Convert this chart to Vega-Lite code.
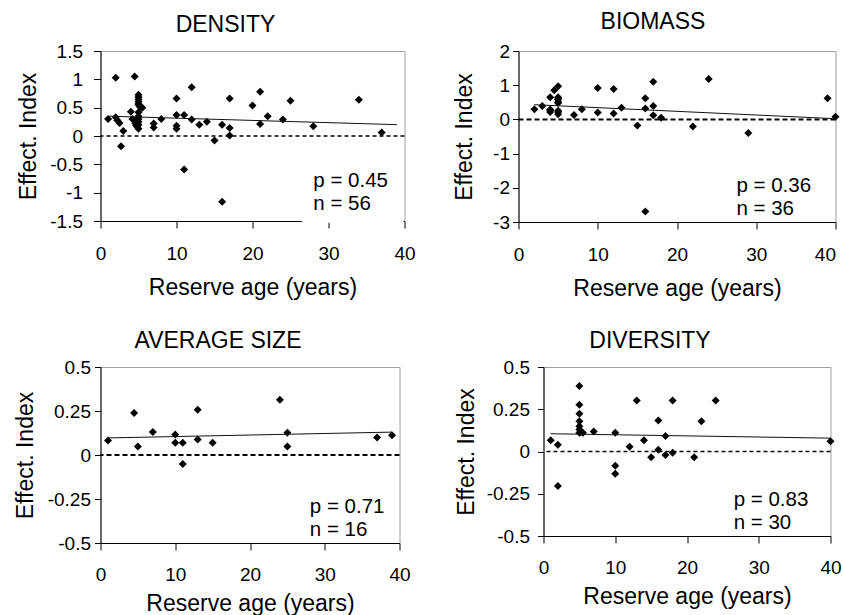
{
  "$schema": "https://vega.github.io/schema/vega-lite/v6.json",
  "background": "white",
  "padding": {"left": 13.5, "top": 10, "right": 5, "bottom": 0},
  "config": {
    "font": "Liberation Sans",
    "view": {"stroke": "#a0a0a0", "strokeWidth": 1},
    "axis": {"grid": false, "domainColor": "black", "tickColor": "black", "labelColor": "black", "titleColor": "black", "labelFont": "Liberation Sans", "titleFont": "Liberation Sans", "labelFontSize": 19, "titleFontSize": 23, "titleFontWeight": "normal", "tickSize": 7, "domainWidth": 1, "tickWidth": 1, "labelOverlap": false, "labelFlush": false, "tickCount": 12, "labelExpr": "toString(datum.value)"},
    "title": {"fontSize": 23, "fontWeight": "normal", "font": "Liberation Sans", "color": "black", "frame": "group", "baseline": "alphabetic", "offset": 5.5}
  },
  "datasets": {
    "points": [
      {"panel": "DENSITY", "age": 1, "effect": 0.30},
      {"panel": "DENSITY", "age": 2, "effect": 1.03},
      {"panel": "DENSITY", "age": 2, "effect": 0.33},
      {"panel": "DENSITY", "age": 2.2, "effect": 0.28},
      {"panel": "DENSITY", "age": 2.5, "effect": 0.23},
      {"panel": "DENSITY", "age": 2.7, "effect": -0.18},
      {"panel": "DENSITY", "age": 3, "effect": 0.09},
      {"panel": "DENSITY", "age": 4, "effect": 0.43},
      {"panel": "DENSITY", "age": 4.5, "effect": 1.05},
      {"panel": "DENSITY", "age": 4.2, "effect": 0.30},
      {"panel": "DENSITY", "age": 4.5, "effect": 0.27},
      {"panel": "DENSITY", "age": 4.6, "effect": 0.22},
      {"panel": "DENSITY", "age": 4.7, "effect": 0.18},
      {"panel": "DENSITY", "age": 5, "effect": 0.73},
      {"panel": "DENSITY", "age": 5, "effect": 0.69},
      {"panel": "DENSITY", "age": 5, "effect": 0.65},
      {"panel": "DENSITY", "age": 5, "effect": 0.61},
      {"panel": "DENSITY", "age": 5, "effect": 0.57},
      {"panel": "DENSITY", "age": 5, "effect": 0.42},
      {"panel": "DENSITY", "age": 5, "effect": 0.30},
      {"panel": "DENSITY", "age": 5, "effect": 0.25},
      {"panel": "DENSITY", "age": 5, "effect": 0.20},
      {"panel": "DENSITY", "age": 5, "effect": 0.13},
      {"panel": "DENSITY", "age": 5, "effect": 0.35},
      {"panel": "DENSITY", "age": 5.2, "effect": 0.51},
      {"panel": "DENSITY", "age": 5.5, "effect": 0.50},
      {"panel": "DENSITY", "age": 4.8, "effect": 0.28},
      {"panel": "DENSITY", "age": 5, "effect": 0.55},
      {"panel": "DENSITY", "age": 7, "effect": 0.22},
      {"panel": "DENSITY", "age": 7, "effect": 0.15},
      {"panel": "DENSITY", "age": 8, "effect": 0.30},
      {"panel": "DENSITY", "age": 10, "effect": 0.66},
      {"panel": "DENSITY", "age": 10, "effect": 0.37},
      {"panel": "DENSITY", "age": 10, "effect": 0.18},
      {"panel": "DENSITY", "age": 10, "effect": 0.13},
      {"panel": "DENSITY", "age": 11, "effect": 0.37},
      {"panel": "DENSITY", "age": 11, "effect": -0.59},
      {"panel": "DENSITY", "age": 12, "effect": 0.86},
      {"panel": "DENSITY", "age": 12, "effect": 0.29},
      {"panel": "DENSITY", "age": 13, "effect": 0.20},
      {"panel": "DENSITY", "age": 14, "effect": 0.25},
      {"panel": "DENSITY", "age": 15, "effect": -0.08},
      {"panel": "DENSITY", "age": 16, "effect": 0.20},
      {"panel": "DENSITY", "age": 16, "effect": -1.16},
      {"panel": "DENSITY", "age": 17, "effect": 0.66},
      {"panel": "DENSITY", "age": 17, "effect": 0.14},
      {"panel": "DENSITY", "age": 17, "effect": 0.01},
      {"panel": "DENSITY", "age": 20, "effect": 0.54},
      {"panel": "DENSITY", "age": 21, "effect": 0.78},
      {"panel": "DENSITY", "age": 21, "effect": 0.21},
      {"panel": "DENSITY", "age": 22, "effect": 0.35},
      {"panel": "DENSITY", "age": 24, "effect": 0.29},
      {"panel": "DENSITY", "age": 25, "effect": 0.62},
      {"panel": "DENSITY", "age": 28, "effect": 0.17},
      {"panel": "DENSITY", "age": 34, "effect": 0.64},
      {"panel": "DENSITY", "age": 37, "effect": 0.06},

      {"panel": "BIOMASS", "age": 2, "effect": 0.30},
      {"panel": "BIOMASS", "age": 3, "effect": 0.39},
      {"panel": "BIOMASS", "age": 4, "effect": 0.65},
      {"panel": "BIOMASS", "age": 4, "effect": 0.29},
      {"panel": "BIOMASS", "age": 4, "effect": 0.22},
      {"panel": "BIOMASS", "age": 4, "effect": 0.26},
      {"panel": "BIOMASS", "age": 4.5, "effect": 0.85},
      {"panel": "BIOMASS", "age": 5, "effect": 0.97},
      {"panel": "BIOMASS", "age": 5, "effect": 0.65},
      {"panel": "BIOMASS", "age": 5, "effect": 0.62},
      {"panel": "BIOMASS", "age": 5, "effect": 0.58},
      {"panel": "BIOMASS", "age": 5, "effect": 0.51},
      {"panel": "BIOMASS", "age": 5, "effect": 0.48},
      {"panel": "BIOMASS", "age": 5, "effect": 0.25},
      {"panel": "BIOMASS", "age": 5, "effect": 0.22},
      {"panel": "BIOMASS", "age": 5, "effect": 0.15},
      {"panel": "BIOMASS", "age": 7, "effect": 0.13},
      {"panel": "BIOMASS", "age": 8, "effect": 0.30},
      {"panel": "BIOMASS", "age": 10, "effect": 0.92},
      {"panel": "BIOMASS", "age": 10, "effect": 0.20},
      {"panel": "BIOMASS", "age": 12, "effect": 0.89},
      {"panel": "BIOMASS", "age": 12, "effect": 0.17},
      {"panel": "BIOMASS", "age": 13, "effect": 0.34},
      {"panel": "BIOMASS", "age": 15, "effect": -0.18},
      {"panel": "BIOMASS", "age": 16, "effect": 0.62},
      {"panel": "BIOMASS", "age": 16, "effect": 0.32},
      {"panel": "BIOMASS", "age": 16, "effect": -2.69},
      {"panel": "BIOMASS", "age": 17, "effect": 1.10},
      {"panel": "BIOMASS", "age": 17, "effect": 0.39},
      {"panel": "BIOMASS", "age": 17, "effect": 0.12},
      {"panel": "BIOMASS", "age": 18, "effect": 0.05},
      {"panel": "BIOMASS", "age": 22, "effect": -0.21},
      {"panel": "BIOMASS", "age": 24, "effect": 1.18},
      {"panel": "BIOMASS", "age": 29, "effect": -0.40},
      {"panel": "BIOMASS", "age": 39, "effect": 0.62},
      {"panel": "BIOMASS", "age": 40, "effect": 0.08},

      {"panel": "AVERAGE SIZE", "age": 1, "effect": 0.082},
      {"panel": "AVERAGE SIZE", "age": 4.5, "effect": 0.238},
      {"panel": "AVERAGE SIZE", "age": 5, "effect": 0.048},
      {"panel": "AVERAGE SIZE", "age": 7, "effect": 0.131},
      {"panel": "AVERAGE SIZE", "age": 10, "effect": 0.116},
      {"panel": "AVERAGE SIZE", "age": 10, "effect": 0.069},
      {"panel": "AVERAGE SIZE", "age": 11, "effect": 0.069},
      {"panel": "AVERAGE SIZE", "age": 11, "effect": -0.051},
      {"panel": "AVERAGE SIZE", "age": 13, "effect": 0.257},
      {"panel": "AVERAGE SIZE", "age": 13, "effect": 0.088},
      {"panel": "AVERAGE SIZE", "age": 15, "effect": 0.069},
      {"panel": "AVERAGE SIZE", "age": 24, "effect": 0.314},
      {"panel": "AVERAGE SIZE", "age": 25, "effect": 0.126},
      {"panel": "AVERAGE SIZE", "age": 25, "effect": 0.048},
      {"panel": "AVERAGE SIZE", "age": 37, "effect": 0.099},
      {"panel": "AVERAGE SIZE", "age": 39, "effect": 0.112},

      {"panel": "DIVERSITY", "age": 1, "effect": 0.067},
      {"panel": "DIVERSITY", "age": 2, "effect": 0.040},
      {"panel": "DIVERSITY", "age": 2, "effect": -0.204},
      {"panel": "DIVERSITY", "age": 5, "effect": 0.387},
      {"panel": "DIVERSITY", "age": 5, "effect": 0.276},
      {"panel": "DIVERSITY", "age": 5, "effect": 0.224},
      {"panel": "DIVERSITY", "age": 5, "effect": 0.179},
      {"panel": "DIVERSITY", "age": 5, "effect": 0.149},
      {"panel": "DIVERSITY", "age": 5, "effect": 0.130},
      {"panel": "DIVERSITY", "age": 5, "effect": 0.111},
      {"panel": "DIVERSITY", "age": 5.2, "effect": 0.115},
      {"panel": "DIVERSITY", "age": 5.5, "effect": 0.111},
      {"panel": "DIVERSITY", "age": 7, "effect": 0.119},
      {"panel": "DIVERSITY", "age": 10, "effect": 0.111},
      {"panel": "DIVERSITY", "age": 10, "effect": -0.085},
      {"panel": "DIVERSITY", "age": 10, "effect": -0.131},
      {"panel": "DIVERSITY", "age": 12, "effect": 0.028},
      {"panel": "DIVERSITY", "age": 13, "effect": 0.302},
      {"panel": "DIVERSITY", "age": 14, "effect": 0.067},
      {"panel": "DIVERSITY", "age": 15, "effect": -0.034},
      {"panel": "DIVERSITY", "age": 16, "effect": 0.183},
      {"panel": "DIVERSITY", "age": 16, "effect": 0.010},
      {"panel": "DIVERSITY", "age": 17, "effect": 0.091},
      {"panel": "DIVERSITY", "age": 17, "effect": -0.020},
      {"panel": "DIVERSITY", "age": 18, "effect": 0.302},
      {"panel": "DIVERSITY", "age": 18, "effect": -0.008},
      {"panel": "DIVERSITY", "age": 21, "effect": -0.034},
      {"panel": "DIVERSITY", "age": 22, "effect": 0.179},
      {"panel": "DIVERSITY", "age": 24, "effect": 0.302},
      {"panel": "DIVERSITY", "age": 40, "effect": 0.060}
    ],
    "fits": [
      {"panel": "DENSITY", "age": 1, "effect": 0.35},
      {"panel": "DENSITY", "age": 39, "effect": 0.20},
      {"panel": "BIOMASS", "age": 2, "effect": 0.43},
      {"panel": "BIOMASS", "age": 40, "effect": 0.02},
      {"panel": "AVERAGE SIZE", "age": 1, "effect": 0.097},
      {"panel": "AVERAGE SIZE", "age": 39, "effect": 0.13},
      {"panel": "DIVERSITY", "age": 1, "effect": 0.105},
      {"panel": "DIVERSITY", "age": 40, "effect": 0.079}
    ]
  },
  "spacing": 28,
  "vconcat": [
    {
      "spacing": 36,
      "hconcat": [
        {
          "title": {"text": "DENSITY", "dx": -27},
          "width": 304,
          "height": 170,
          "layer": [
            {
              "data": {"name": "points"},
              "transform": [{"filter": "datum.panel == 'DENSITY'"}],
              "mark": {"type": "point", "shape": "diamond", "filled": true, "color": "black", "opacity": 1, "size": 64},
              "encoding": {
                "x": {"field": "age", "type": "quantitative", "scale": {"domain": [0, 40], "nice": false}, "axis": {"title": "Reserve age (years)", "values": [0, 10, 20, 30, 40], "tickCount": 12, "labelPadding": 16, "titlePadding": 13}},
                "y": {"field": "effect", "type": "quantitative", "scale": {"domain": [-1.5, 1.5], "nice": false}, "axis": {"title": "Effect. Index", "values": [-1.5, -1, -0.5, 0, 0.5, 1, 1.5], "tickCount": 12, "labelPadding": 11, "titlePadding": 9}}
              }
            },
            {
              "data": {"values": [{}]},
              "mark": {"type": "rule", "color": "black", "strokeWidth": 1.3, "strokeDash": [4, 3]},
              "encoding": {"y": {"datum": 0}}
            },
            {
              "data": {"name": "fits"},
              "transform": [{"filter": "datum.panel == 'DENSITY'"}],
              "mark": {"type": "line", "color": "#111", "strokeWidth": 1},
              "encoding": {"x": {"field": "age", "type": "quantitative"}, "y": {"field": "effect", "type": "quantitative"}}
            },
            {
              "data": {"values": [{}]},
              "mark": {"type": "rect", "color": "white"},
              "encoding": {"x": {"datum": 26.5}, "x2": {"datum": 39.9}, "y": {"datum": -1.53}, "y2": {"datum": -0.7}}
            },
            {
              "data": {"values": [{}]},
              "mark": {"type": "text", "text": ["p = 0.45", "n = 56"], "align": "left", "baseline": "middle", "fontSize": 20.5, "lineHeight": 23, "color": "black"},
              "encoding": {"x": {"datum": 28}, "y": {"datum": -0.8}}
            }
          ]
        },
        {
          "title": {"text": "BIOMASS", "dx": -24, "dy": -3},
          "width": 317,
          "height": 171,
          "layer": [
            {
              "data": {"name": "points"},
              "transform": [{"filter": "datum.panel == 'BIOMASS'"}],
              "mark": {"type": "point", "shape": "diamond", "filled": true, "color": "black", "opacity": 1, "size": 64},
              "encoding": {
                "x": {"field": "age", "type": "quantitative", "scale": {"domain": [0, 40], "nice": false}, "axis": {"title": "Reserve age (years)", "values": [0, 10, 20, 30, 40], "tickCount": 12, "labelPadding": 16, "titlePadding": 13, "labelAlign": {"expr": "datum.value == 40 ? 'right' : 'center'"}}},
                "y": {"field": "effect", "type": "quantitative", "scale": {"domain": [-3, 2], "nice": false}, "axis": {"title": "Effect. Index", "values": [-3, -2, -1, 0, 1, 2], "tickCount": 12, "tickSize": 6, "labelPadding": 3, "titlePadding": 16}}
              }
            },
            {
              "data": {"values": [{}]},
              "mark": {"type": "rule", "color": "black", "strokeWidth": 2, "strokeDash": [5, 3]},
              "encoding": {"y": {"datum": 0}}
            },
            {
              "data": {"name": "fits"},
              "transform": [{"filter": "datum.panel == 'BIOMASS'"}],
              "mark": {"type": "line", "color": "#111", "strokeWidth": 1},
              "encoding": {"x": {"field": "age", "type": "quantitative"}, "y": {"field": "effect", "type": "quantitative"}}
            },
            {
              "data": {"values": [{}]},
              "mark": {"type": "text", "text": ["p = 0.36", "n = 36"], "align": "left", "baseline": "middle", "fontSize": 20.5, "lineHeight": 23, "color": "black"},
              "encoding": {"x": {"datum": 27.5}, "y": {"datum": -1.96}}
            }
          ]
        }
      ]
    },
    {
      "spacing": 43,
      "hconcat": [
        {
          "title": {"text": "AVERAGE SIZE", "dx": -32},
          "width": 299,
          "height": 176,
          "layer": [
            {
              "data": {"name": "points"},
              "transform": [{"filter": "datum.panel == 'AVERAGE SIZE'"}],
              "mark": {"type": "point", "shape": "diamond", "filled": true, "color": "black", "opacity": 1, "size": 64},
              "encoding": {
                "x": {"field": "age", "type": "quantitative", "scale": {"domain": [0, 40], "nice": false}, "axis": {"title": "Reserve age (years)", "values": [0, 10, 20, 30, 40], "tickCount": 12, "labelPadding": 15, "titlePadding": 8}},
                "y": {"field": "effect", "type": "quantitative", "scale": {"domain": [-0.5, 0.5], "nice": false}, "axis": {"title": "Effect. Index", "values": [-0.5, -0.25, 0, 0.25, 0.5], "tickCount": 12, "tickSize": 6, "labelPadding": 4, "titlePadding": 10}}
              }
            },
            {
              "data": {"values": [{}]},
              "mark": {"type": "rule", "color": "black", "strokeWidth": 2, "strokeDash": [5, 3]},
              "encoding": {"y": {"datum": 0}}
            },
            {
              "data": {"name": "fits"},
              "transform": [{"filter": "datum.panel == 'AVERAGE SIZE'"}],
              "mark": {"type": "line", "color": "#111", "strokeWidth": 1},
              "encoding": {"x": {"field": "age", "type": "quantitative"}, "y": {"field": "effect", "type": "quantitative"}}
            },
            {
              "data": {"values": [{}]},
              "mark": {"type": "text", "text": ["p = 0.71", "n = 16"], "align": "left", "baseline": "middle", "fontSize": 20.5, "lineHeight": 23, "color": "black"},
              "encoding": {"x": {"datum": 28}, "y": {"datum": -0.297}}
            }
          ]
        },
        {
          "title": {"text": "DIVERSITY", "dx": -37},
          "width": 287,
          "height": 169,
          "layer": [
            {
              "data": {"name": "points"},
              "transform": [{"filter": "datum.panel == 'DIVERSITY'"}],
              "mark": {"type": "point", "shape": "diamond", "filled": true, "color": "black", "opacity": 1, "size": 64},
              "encoding": {
                "x": {"field": "age", "type": "quantitative", "scale": {"domain": [0, 40], "nice": false}, "axis": {"title": "Reserve age (years)", "values": [0, 10, 20, 30, 40], "tickCount": 12, "labelPadding": 15, "titlePadding": 8}},
                "y": {"field": "effect", "type": "quantitative", "scale": {"domain": [-0.5, 0.5], "nice": false}, "axis": {"title": "Effect. Index", "values": [-0.5, -0.25, 0, 0.25, 0.5], "tickCount": 12, "tickSize": 6, "labelPadding": 8, "titlePadding": 8}}
              }
            },
            {
              "data": {"values": [{}]},
              "mark": {"type": "rule", "color": "black", "strokeWidth": 1.3, "strokeDash": [4, 3]},
              "encoding": {"y": {"datum": 0}}
            },
            {
              "data": {"name": "fits"},
              "transform": [{"filter": "datum.panel == 'DIVERSITY'"}],
              "mark": {"type": "line", "color": "#111", "strokeWidth": 1},
              "encoding": {"x": {"field": "age", "type": "quantitative"}, "y": {"field": "effect", "type": "quantitative"}}
            },
            {
              "data": {"values": [{}]},
              "mark": {"type": "text", "text": ["p = 0.83", "n = 30"], "align": "left", "baseline": "middle", "fontSize": 20.5, "lineHeight": 23, "color": "black"},
              "encoding": {"x": {"datum": 26.5}, "y": {"datum": -0.288}}
            }
          ]
        }
      ]
    }
  ]
}
